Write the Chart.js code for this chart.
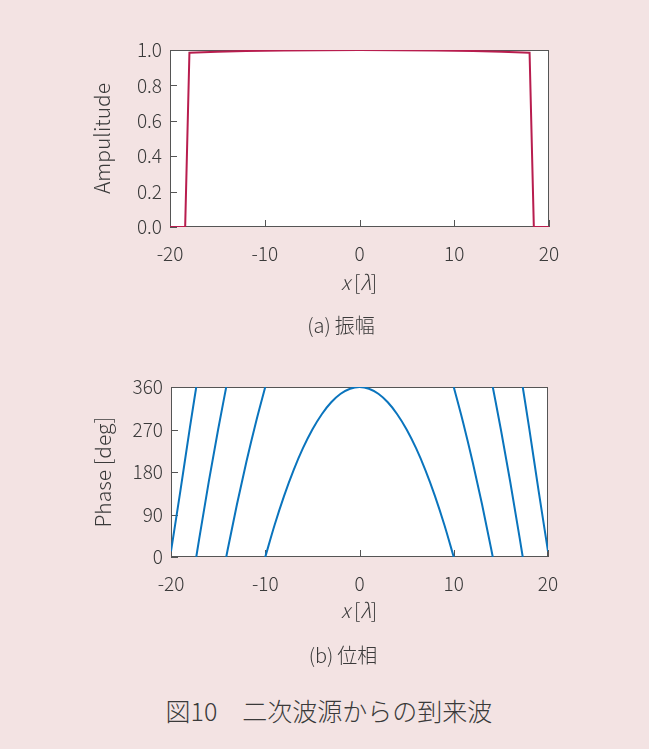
<!DOCTYPE html>
<html>
<head>
<meta charset="utf-8">
<script src="https://cdn.jsdelivr.net/npm/chart.js@4.4.1/dist/chart.umd.min.js"></script>
<style>
    html, body { margin: 0; padding: 0; }
    body {
        width: 649px;
        height: 749px;
        background: #f3e3e3;
        position: relative;
        overflow: hidden;
        font-family: "Noto Sans CJK JP", "Noto Sans", sans-serif;
        font-weight: 300;
        color: #3a3a3a;
    }
    .box { position: absolute; left: 0; width: 649px; }
    .label { position: absolute; white-space: nowrap; transform: translate(-50%, -50%); }
</style>
</head>
<body>
<div class="box" id="boxA" style="top:0; height:300px;"><canvas id="chartA"></canvas></div>
<div class="box" id="boxB" style="top:340px; height:280px;"><canvas id="chartB"></canvas></div>

<div class="label" style="left:359px; top:281px; font-size:20px;"><i>x</i>&thinsp;[<i>λ</i>]</div>
<div class="label" style="left:341px; top:324px; font-size:20px;">(a)&thinsp;振幅</div>
<div class="label" style="left:359px; top:609px; font-size:20px;"><i>x</i>&thinsp;[<i>λ</i>]</div>
<div class="label" style="left:343px; top:654px; font-size:20px;">(b)&thinsp;位相</div>
<div class="label" style="left:329px; top:710px; font-size:25px;">図10　二次波源からの到来波</div>

<script>
// amplitude (a)
const ampX = [-20, -18.4, -17.95, -15, -12, -8, -4, 0, 4, 8, 12, 15, 17.95, 18.4, 20];
const ampY = [0, 0, 0.985, 0.99, 0.994, 0.997, 0.999, 1.0, 0.999, 0.997, 0.994, 0.99, 0.985, 0, 0];
const ampTicks = [0, 0.2, 0.4, 0.6, 0.8, 1.0];

// phase (b), null = wrap gap between branches
const phaseX = [
    -20, -19, -18, -17.32, -17.32,
    -17.32, -17, -16, -15, -14.14, -14.14,
    -14.14, -14, -13, -12, -11, -10, -10,
    -10, -9, -8, -7, -6, -5, -4, -3, -2, -1, 0, 1, 2, 3, 4, 5, 6, 7, 8, 9, 10, 10,
    10, 11, 12, 13, 14, 14.14, 14.14,
    14.14, 15, 16, 17, 17.32, 17.32,
    17.32, 18, 19, 20
];
const phaseY = [
    12, 140.4, 273.6, 360, null,
    0, 39.6, 158.4, 270, 360, null,
    0, 14.4, 111.6, 201.6, 284.4, 360, null,
    0, 68.4, 129.6, 183.6, 230.4, 270, 302.4, 327.6, 345.6, 356.4, 360, 356.4, 345.6, 327.6, 302.4, 270, 230.4, 183.6, 129.6, 68.4, 0, null,
    360, 284.4, 201.6, 111.6, 14.4, 0, null,
    360, 270, 158.4, 39.6, 0, null,
    360, 273.6, 140.4, 12
];
const phaseTicks = [0, 90, 180, 270, 360];
const xTicks = [-20, -10, 0, 10, 20];

const textColor = '#3a3a3a';
const fontFamily = '"Noto Sans CJK JP", "Noto Sans", sans-serif';

// white plot area, box frame and inward ticks
const framePlugin = {
    id: 'frame',
    beforeDraw(chart) {
        const a = chart.chartArea;
        const ctx = chart.ctx;
        ctx.save();
        ctx.fillStyle = '#ffffff';
        ctx.fillRect(a.left, a.top, a.right - a.left, a.bottom - a.top);
        ctx.restore();
    },
    beforeDatasetsDraw(chart) {
        const a = chart.chartArea;
        const ctx = chart.ctx;
        const xs = chart.scales.x;
        const ys = chart.scales.y;
        ctx.save();
        ctx.strokeStyle = '#555555';
        ctx.lineWidth = 1;
        ctx.strokeRect(a.left + 0.5, a.top + 0.5, a.right - a.left - 1, a.bottom - a.top - 1);
        ctx.beginPath();
        xs.ticks.forEach(t => {
            const px = Math.round(xs.getPixelForValue(t.value)) + 0.5;
            ctx.moveTo(px, a.bottom);
            ctx.lineTo(px, a.bottom - 7);
        });
        ys.ticks.forEach(t => {
            const py = Math.round(ys.getPixelForValue(t.value)) + 0.5;
            ctx.moveTo(a.left, py);
            ctx.lineTo(a.left + 7, py);
        });
        ctx.stroke();
        ctx.restore();
    }
};

const makeOptions = (yMin, yMax, yTicks, yTitle, pad, xHeight, yFmt) => ({
    responsive: true,
    maintainAspectRatio: false,
    animation: false,
    layout: { padding: pad },
    plugins: { legend: { display: false }, tooltip: { enabled: false } },
    scales: {
        x: {
            type: 'linear',
            min: -20,
            max: 20,
            grid: { display: false, drawTicks: false },
            border: { display: false },
            afterBuildTicks: scale => { scale.ticks = xTicks.map(v => ({ value: v })); },
            afterFit: scale => { scale.height = xHeight; },
            ticks: {
                color: textColor,
                padding: 15,
                font: { size: 19, family: fontFamily, weight: 300 }
            }
        },
        y: {
            type: 'linear',
            min: yMin,
            max: yMax,
            grid: { display: false, drawTicks: false },
            border: { display: false },
            afterBuildTicks: scale => { scale.ticks = yTicks.map(v => ({ value: v })); },
            afterFit: scale => { scale.width = 85; },
            title: {
                display: true,
                text: yTitle,
                color: textColor,
                padding: { top: 4, bottom: 0 },
                font: { size: 21, family: fontFamily, weight: 300 }
            },
            ticks: {
                color: textColor,
                padding: 8,
                callback: yFmt,
                font: { size: 19, family: fontFamily, weight: 300 }
            }
        }
    }
});

new Chart(document.getElementById('chartA'), {
    type: 'line',
    data: {
        datasets: [{
            data: ampX.map((x, i) => ({ x: x, y: ampY[i] })),
            borderColor: '#b81d4e',
            borderWidth: 2,
            pointRadius: 0,
            tension: 0
        }]
    },
    options: makeOptions(0, 1, ampTicks, 'Ampulitude',
        { left: 85, top: 50, right: 100, bottom: 3 }, 70, v => v.toFixed(1)),
    plugins: [framePlugin]
});

new Chart(document.getElementById('chartB'), {
    type: 'line',
    data: {
        datasets: [{
            data: phaseX.map((x, i) => ({ x: x, y: phaseY[i] })),
            borderColor: '#0a74bd',
            borderWidth: 2,
            pointRadius: 0,
            spanGaps: false,
            cubicInterpolationMode: 'monotone'
        }]
    },
    options: makeOptions(0, 360, phaseTicks, 'Phase [deg]',
        { left: 86, top: 47, right: 101, bottom: 0 }, 63, v => v),
    plugins: [framePlugin]
});
</script>
</body>
</html>
